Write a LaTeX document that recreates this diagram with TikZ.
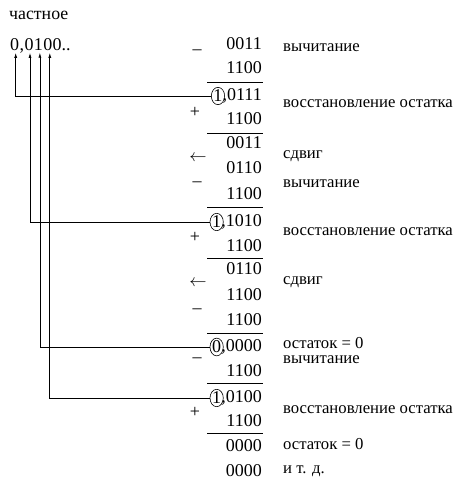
\documentclass[tikz,border=0pt]{standalone}
\usepackage{fontspec}
\setmainfont{Liberation Serif}
\usetikzlibrary{positioning,shapes.geometric,arrows.meta}
\tikzset{
  num/.style={anchor=east, inner sep=0pt, font=\fontsize{18}{18}\selectfont},
  qd/.style={anchor=base west, inner sep=0pt, font=\fontsize{18}{18}\selectfont},
  op/.style={inner sep=0pt, font=\fontsize{18}{18}\selectfont},
  note/.style={anchor=west, inner sep=0pt, font=\fontsize{16.7}{16.7}\selectfont},
  bit/.style={ellipse, draw, line width=0.6pt, inner sep=0.2pt, anchor=east,
    font=\fontsize{18}{18}\selectfont},
  rule/.style={line width=0.8pt},
  link/.style={-{Latex[length=5pt,width=3pt]}, line width=0.7pt},
}
\begin{document}
\begin{tikzpicture}[x=1pt,y=-1pt]
\useasboundingbox (0,0) rectangle (454,480);
% quotient
\node[note, font=\fontsize{17.8}{17.8}\selectfont] (head) at (9,15) {частное};
\node[qd] (q0) at (10,50) {0};
\node[qd] (qc) at (q0.base east) {,};
\node[qd] (q1) at (qc.base east) {0};
\node[qd] (q2) at (q1.base east) {1};
\node[qd] (q3) at (q2.base east) {0};
\node[qd] (q4) at (q3.base east) {0..};
% column of numbers
\node[num] (r1) at (262,44) {0011};
\node[num] (r2) at (262,68) {1100};
\draw[rule] (207,82) -- (263,82);
\node[num] (r3) at (262,96) {,0111};
\node[bit] (c1) at ([xshift=2.5pt]r3.west) {1};
\node[num] (r4) at (262,119) {1100};
\draw[rule] (207,133) -- (263,133);
\node[num] (r5) at (262,143) {0011};
\node[num] (r6) at (262,168) {0110};
\node[num] (r7) at (262,194) {1100};
\draw[rule] (207,207) -- (263,207);
\node[num] (r8) at (262,222) {,1010};
\node[bit] (c2) at ([xshift=2.5pt]r8.west) {1};
\node[num] (r9) at (262,246) {1100};
\draw[rule] (207,258) -- (263,258);
\node[num] (r10) at (262,269) {0110};
\node[num] (r11) at (262,295) {1100};
\node[num] (r12) at (262,320) {1100};
\draw[rule] (207,333) -- (263,333);
\node[num] (r13) at (262,347) {,0000};
\node[bit] (c3) at ([xshift=2.5pt]r13.west) {0};
\node[num] (r14) at (262,371) {1100};
\draw[rule] (207,383) -- (263,383);
\node[num] (r15) at (262,398) {,0100};
\node[bit] (c4) at ([xshift=2.5pt]r15.west) {1};
\node[num] (r16) at (262,421) {1100};
\draw[rule] (207,433) -- (263,433);
\node[num] (r17) at (262,446) {0000};
\node[num] (r18) at (262,471) {0000};
% operations
\node[op] (o1) at (197,52) {–};
\node[op] (o2) at (195,112) {+};
\node[op] (o3) at (198,158) {$\leftarrow$};
\node[op] (o4) at (197,184) {–};
\node[op] (o5) at (195,237) {+};
\node[op] (o6) at (198,283) {$\leftarrow$};
\node[op] (o7) at (197,311) {–};
\node[op] (o8) at (197,360) {–};
\node[op] (o9) at (195,412) {+};
% notes
\node[note] (n1) at (283,48) {вычитание};
\node[note] (n2) at (283,104) {восстановление остатка};
\node[note] (n3) at (283,156) {сдвиг};
\node[note] (n4) at (283,184) {вычитание};
\node[note] (n5) at (283,232) {восстановление остатка};
\node[note] (n6) at (283,282) {сдвиг};
\node[note] (n7) at (283,343) {остаток = 0};
\node[note] (n8) at (283,360) {вычитание};
\node[note] (n9) at (283,410) {восстановление остатка};
\node[note] (n10) at (283,444) {остаток = 0};
\node[note] (n11) at (283,471) {и т. д.};
% carries to the quotient
\draw[link] (c1.west) -| ([xshift=1pt,yshift=-2.5pt]q0.south);
\draw[link] (c2.west) -| ([xshift=1pt,yshift=-2.5pt]q1.south);
\draw[link] (c3.west) -| ([xshift=1.5pt,yshift=-2.5pt]q2.south);
\draw[link] (c4.west) -| ([xshift=2pt,yshift=-2.5pt]q3.south);
\end{tikzpicture}
\end{document}
